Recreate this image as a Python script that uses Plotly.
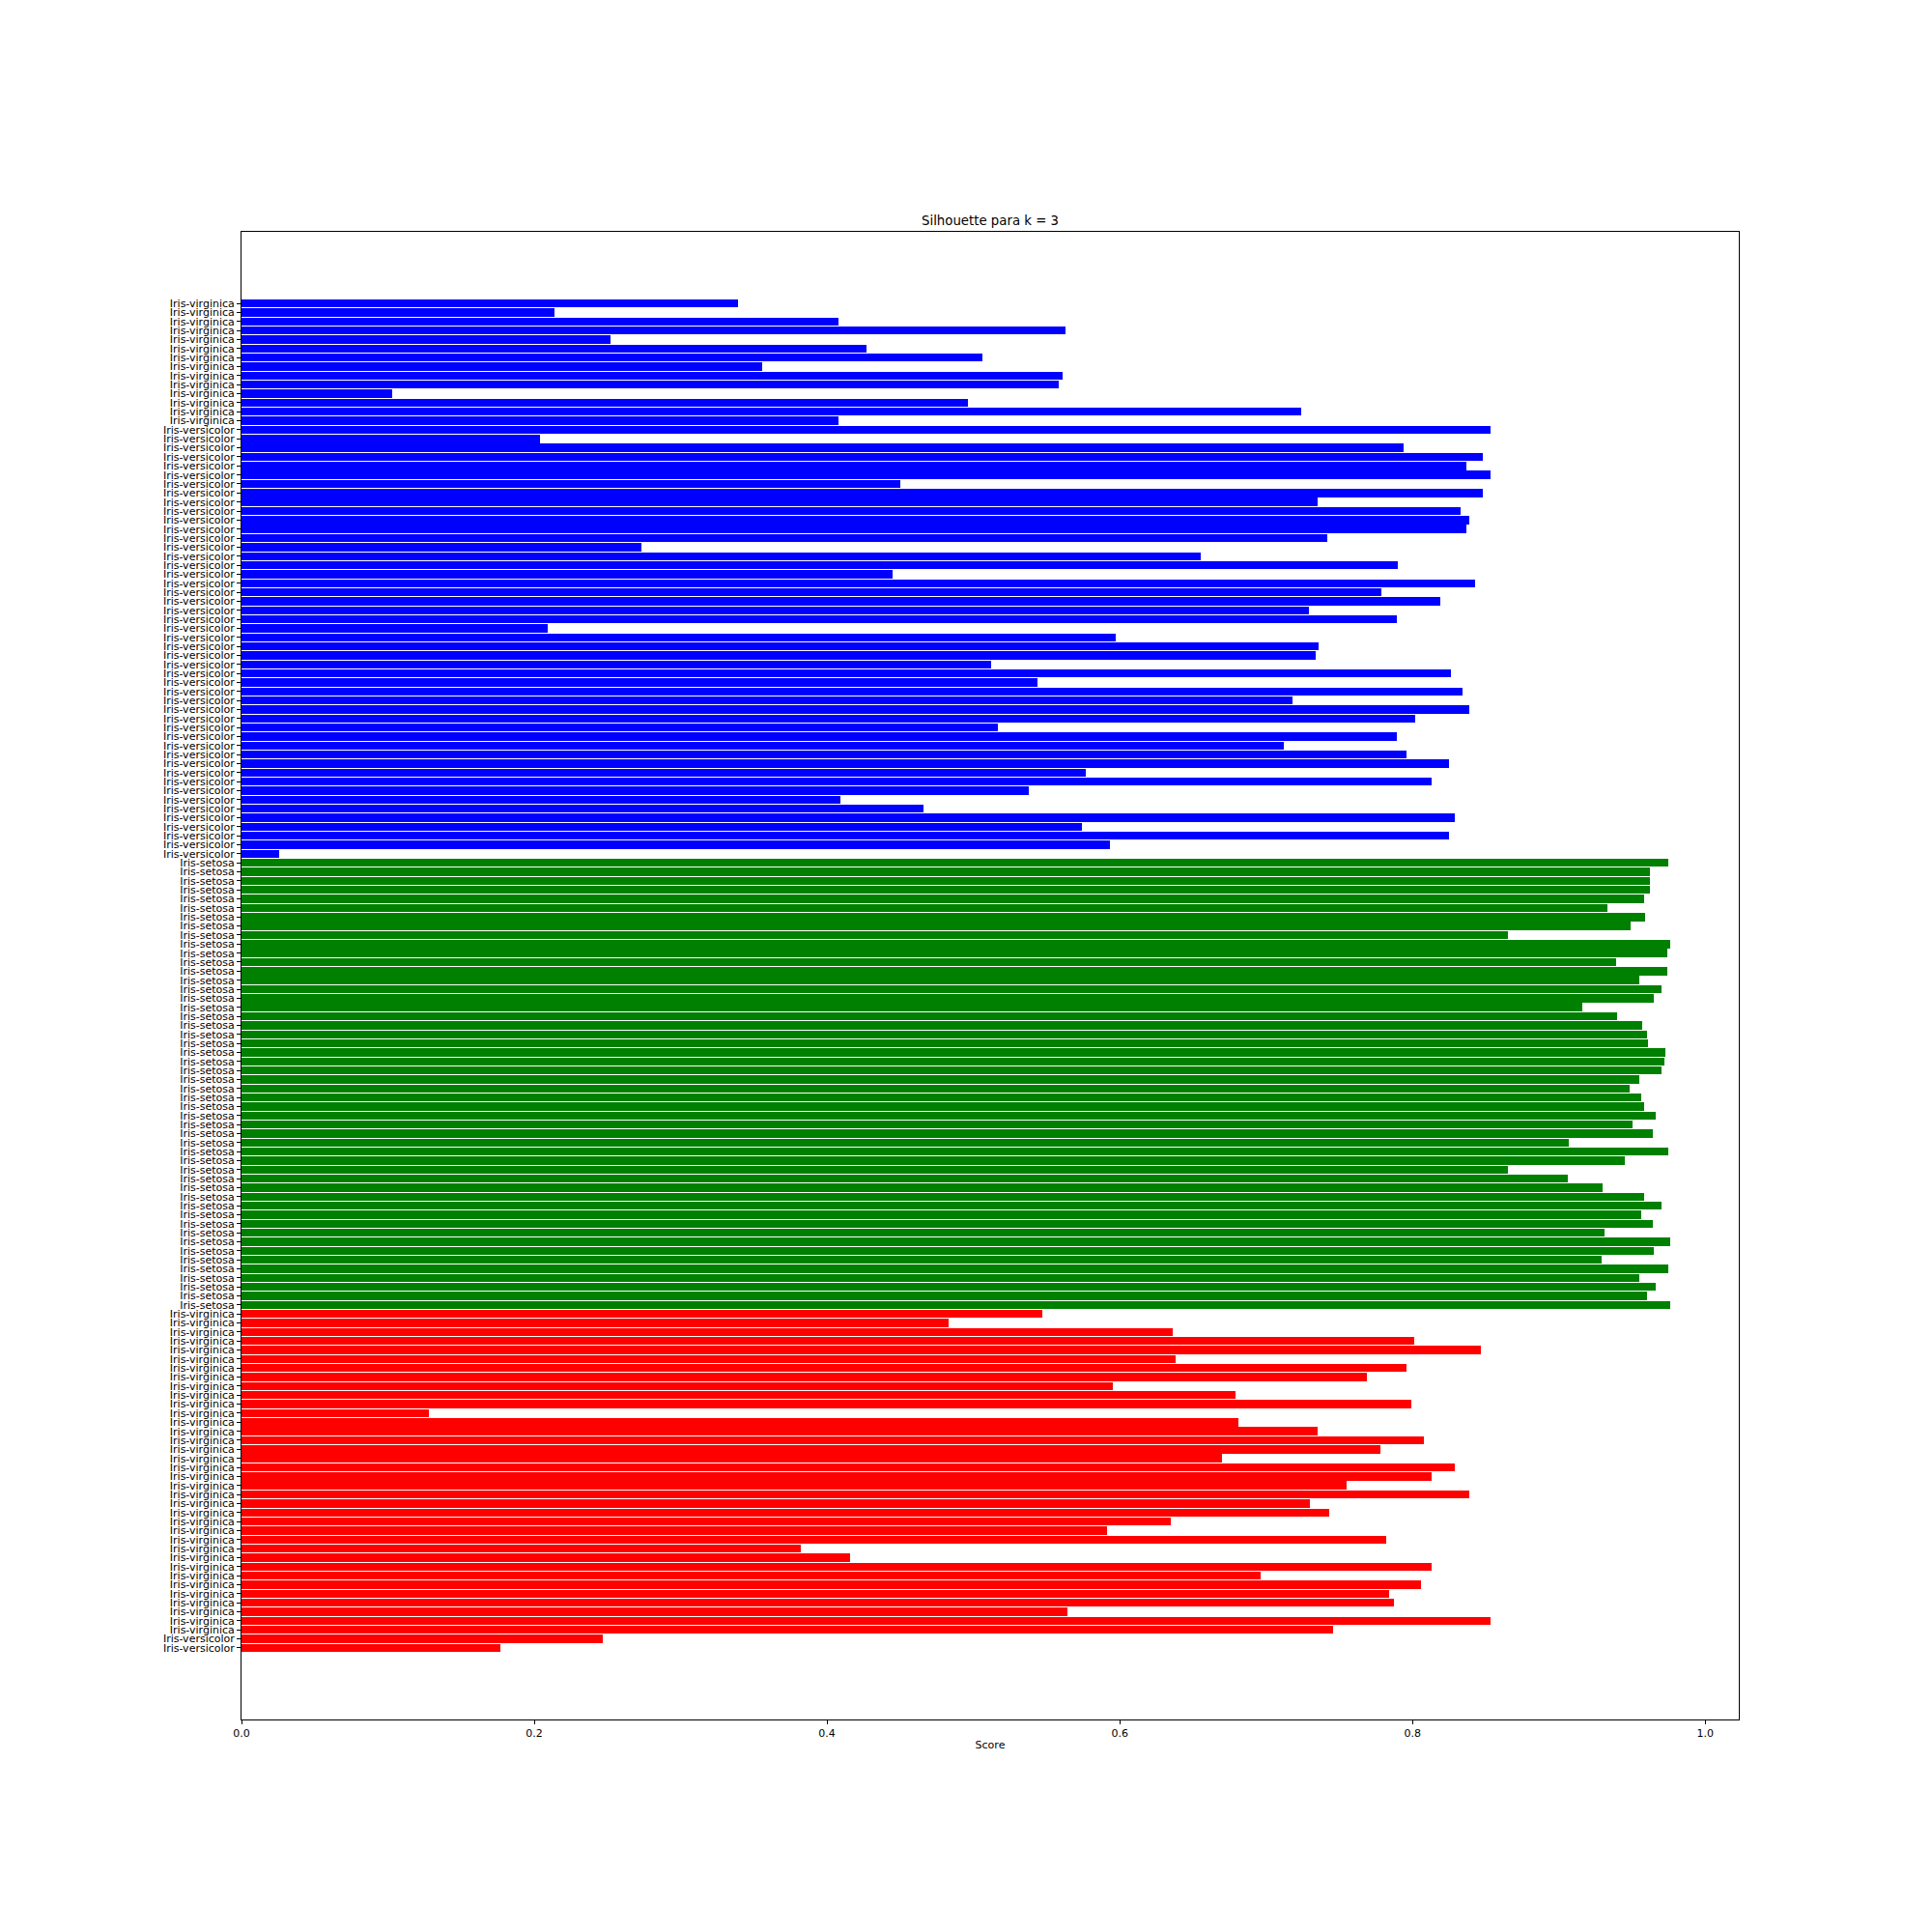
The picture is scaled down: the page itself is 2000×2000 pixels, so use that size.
import plotly.graph_objects as go

# Labels (top to bottom)
labels = (["Iris-virginica"] * 14 + ["Iris-versicolor"] * 48 +
          ["Iris-setosa"] * 50 + ["Iris-virginica"] * 36 + ["Iris-versicolor"] * 2)

# Cluster id for each bar (top to bottom)
clusters = [0] * 62 + [1] * 50 + [2] * 38

# Silhouette scores (top to bottom)
scores = [
    0.339, 0.214, 0.408, 0.563, 0.252, 0.427, 0.506, 0.356, 0.561, 0.558, 0.103, 0.496, 0.724, 0.408,
    0.853, 0.204, 0.794, 0.848, 0.837, 0.853, 0.450, 0.848, 0.735, 0.833, 0.839, 0.837,
    0.742, 0.273, 0.655, 0.790, 0.445, 0.843, 0.779, 0.819, 0.729, 0.789, 0.209, 0.597, 0.736,
    0.734, 0.512, 0.826, 0.544, 0.834, 0.718, 0.839, 0.802, 0.517, 0.789, 0.712, 0.796, 0.825,
    0.577, 0.813, 0.538, 0.409, 0.466, 0.829, 0.574, 0.825, 0.593, 0.026,
    0.975, 0.962, 0.962, 0.962, 0.958, 0.933, 0.959, 0.949, 0.865, 0.976, 0.974, 0.939, 0.974, 0.955, 0.970, 0.965,
    0.916, 0.940, 0.957, 0.960, 0.961, 0.973, 0.972, 0.970, 0.955, 0.948, 0.956, 0.958, 0.966,
    0.950, 0.964, 0.907, 0.975, 0.945, 0.865, 0.906, 0.930, 0.958, 0.970, 0.956, 0.964, 0.931,
    0.976, 0.965, 0.929, 0.975, 0.955, 0.966, 0.960, 0.976,
    0.547, 0.483, 0.636, 0.801, 0.847, 0.638, 0.796, 0.769, 0.595, 0.679, 0.799, 0.128, 0.681, 0.735, 0.808, 0.778, 0.670, 0.829,
    0.813, 0.755, 0.839, 0.730, 0.743, 0.635, 0.591, 0.782, 0.382, 0.416, 0.813, 0.696, 0.806,
    0.784, 0.787, 0.564, 0.853, 0.746, 0.247, 0.177,
]

title_text = "Silhouette para k = 3"
x_label = "Score"
x_ticks = [0.0, 0.2, 0.4, 0.6, 0.8, 1.0]

cluster_colors = {0: "#0000ff", 1: "#008000", 2: "#ff0000"}

n = len(scores)
ypos = [n - 1 - i for i in range(n)]
colors = [cluster_colors[c] for c in clusters]

FONT = "DejaVu Sans"

fig = go.Figure(go.Bar(
    x=scores, y=ypos, orientation="h",
    marker=dict(color=colors, line=dict(width=0)),
    width=0.9,
))

fig.update_layout(
    width=2000, height=2000,
    margin=dict(l=250, r=200, t=240, b=220, pad=0),
    paper_bgcolor="white", plot_bgcolor="white",
    showlegend=False,
    font=dict(family=FONT, size=11, color="black"),
    bargap=0,
)

fig.update_xaxes(
    range=[0, 1.0229],
    tickvals=x_ticks,
    ticktext=[f"{v:.1f}" for v in x_ticks],
    ticks="outside", ticklen=4, tickwidth=1, tickcolor="black",
    showline=True, linecolor="black", linewidth=1, mirror=True,
    showgrid=False, zeroline=False,
    tickfont=dict(family=FONT, size=11, color="black"),
    title=dict(text=x_label, font=dict(family=FONT, size=11, color="black"), standoff=2),
)

fig.update_yaxes(
    range=[-7.945, n - 1 + 7.945],
    tickvals=ypos,
    ticktext=labels,
    ticks="outside", ticklen=4, tickwidth=1, tickcolor="black",
    showline=True, linecolor="black", linewidth=1, mirror=True,
    showgrid=False, zeroline=False,
    tickfont=dict(family=FONT, size=11, color="black"),
)

fig.add_annotation(
    text=title_text, xref="paper", yref="paper", x=0.5, y=1,
    xanchor="center", yanchor="bottom", yshift=2, showarrow=False,
    font=dict(family=FONT, size=13.3, color="black"),
)

fig.write_html("out.html")
